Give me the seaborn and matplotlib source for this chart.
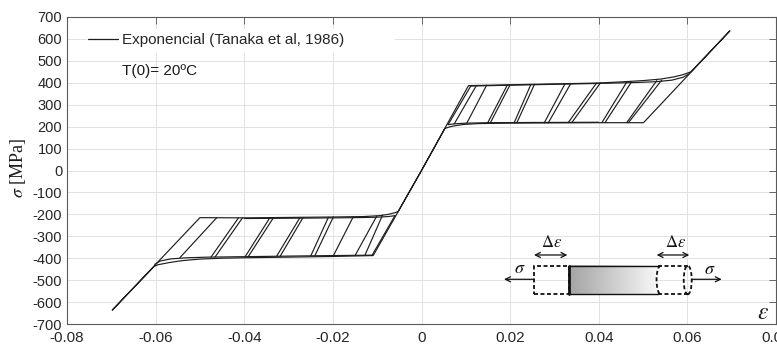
import numpy as np
import pandas as pd
import matplotlib
matplotlib.use("Agg")
import matplotlib.pyplot as plt
import seaborn as sns
from matplotlib.patches import Rectangle, Arc, Ellipse
from matplotlib.lines import Line2D

sns.set_theme(style="white")
plt.rcParams["font.family"] = ["Liberation Sans", "DejaVu Sans"]
plt.rcParams["mathtext.fontset"] = "stix"

# ---------------- data (strain [-], stress [MPa]) ----------------
# outer tension loop (through origin)
upper_x = [0.0, 0.0106, 0.020, 0.030, 0.040, 0.045, 0.050, 0.054, 0.057, 0.059, 0.0608,
           0.0696, 0.0501, 0.040, 0.030, 0.020, 0.013, 0.0095, 0.0075, 0.0062, 0.0053, 0.0]
upper_y = [0, 387, 391, 395, 399, 404, 410, 417, 427, 437, 450,
           637, 218, 218, 217, 216, 214, 210, 204, 198, 192, 0]
# outer compression loop
lower_x = [0.0, -0.0109, -0.020, -0.030, -0.040, -0.045, -0.050, -0.054, -0.057, -0.0595, -0.0603,
           -0.0698, -0.0500, -0.040, -0.030, -0.020, -0.013, -0.0095, -0.0075, -0.0063, -0.0053, 0.0]
lower_y = [0, -388, -392, -395, -398, -400, -404, -411, -420, -430, -437,
           -637, -215, -216, -214, -212, -210, -206, -200, -194, -188, 0]

# additional plateau branches of the partial cycles
upper_top2_x = [0.0110, 0.025, 0.040, 0.048, 0.053, 0.0565, 0.0590, 0.0603]
upper_top2_y = [385, 391, 397, 401, 405, 412, 425, 440]
upper_bot2_x = [0.040, 0.025, 0.015, 0.010, 0.0075, 0.0060]
upper_bot2_y = [220, 219, 218, 216, 213, 209]
upper_el2_x = [0.0060, 0.0112]
upper_el2_y = [209, 388]
lower_bot2_x = [-0.0111, -0.025, -0.040, -0.048, -0.053, -0.0565, -0.0590, -0.0602]
lower_bot2_y = [-386, -389, -393, -395, -398, -403, -413, -428]
lower_top2_x = [-0.040, -0.025, -0.015, -0.010, -0.0075, -0.0060]
lower_top2_y = [-219, -217, -215, -213, -210, -206]
lower_el2_x = [-0.0060, -0.0112]
lower_el2_y = [-206, -388]

# partial unloading / reloading branches (top point -> bottom point)
up_diag_top_x = [0.0124, 0.0147, 0.0194, 0.0200, 0.0247, 0.0255, 0.0324, 0.0337,
                 0.0395, 0.0404, 0.0463, 0.0474, 0.0531, 0.0542]
up_diag_top_y = [388, 389, 391, 391, 393, 393, 396, 397, 399, 400, 403, 404, 410, 412]
up_diag_bot_x = [0.0074, 0.0102, 0.0149, 0.0155, 0.0209, 0.0215, 0.0277, 0.0286,
                 0.0331, 0.0339, 0.0407, 0.0414, 0.0463, 0.0467]
up_diag_bot_y = [213, 215, 216, 216, 217, 217, 217, 217, 218, 218, 218, 218, 218, 218]

lo_diag_top_x = [-0.0462, -0.0413, -0.0404, -0.0342, -0.0334, -0.0274, -0.0267,
                 -0.0210, -0.0199, -0.0154, -0.0101, -0.0088]
lo_diag_top_y = [-215, -216, -216, -215, -215, -214, -214, -213, -212, -211, -208, -204]
lo_diag_bot_x = [-0.0545, -0.0475, -0.0466, -0.0398, -0.0391, -0.0327, -0.0319,
                 -0.0250, -0.0241, -0.0199, -0.0150, -0.0128]
lo_diag_bot_y = [-397, -395, -395, -393, -393, -391, -391, -390, -390, -389, -388, -388]

x_ticks = [-0.08, -0.06, -0.04, -0.02, 0.0, 0.02, 0.04, 0.06, 0.08]
x_tick_labels = ["-0.08", "-0.06", "-0.04", "-0.02", "0", "0.02", "0.04", "0.06", "0.08"]
y_ticks = list(range(-700, 701, 100))
y_tick_labels = [str(v) for v in y_ticks]
legend_label = "Exponencial (Tanaka et al, 1986)"
note_text = "T(0)= 20ºC"

# ---------------- long-form table ----------------
rows = []
seg = 0
def add(xs, ys):
    global seg
    for a, b in zip(xs, ys):
        rows.append((seg, a, b))
    seg += 1

add(upper_x, upper_y)
add(lower_x, lower_y)
add(upper_top2_x, upper_top2_y)
add(upper_bot2_x, upper_bot2_y)
add(upper_el2_x, upper_el2_y)
add(lower_bot2_x, lower_bot2_y)
add(lower_top2_x, lower_top2_y)
add(lower_el2_x, lower_el2_y)
for i in range(len(up_diag_top_x)):
    add([up_diag_top_x[i], up_diag_bot_x[i]], [up_diag_top_y[i], up_diag_bot_y[i]])
for i in range(len(lo_diag_top_x)):
    add([lo_diag_top_x[i], lo_diag_bot_x[i]], [lo_diag_top_y[i], lo_diag_bot_y[i]])
df = pd.DataFrame(rows, columns=["seg", "strain", "stress"])

LINE = "#1e1e1e"
fig = plt.figure(figsize=(7.77, 3.47), dpi=100)
ax = fig.add_axes([67 / 777, 23 / 347, 709 / 777, 307 / 347])
sns.lineplot(data=df, x="strain", y="stress", units="seg", estimator=None, sort=False,
             color=LINE, lw=0.85, ax=ax, legend=False)

ax.set_xlim(-0.08, 0.08)
ax.set_ylim(-700, 700)
ax.set_xticks(x_ticks)
ax.set_xticklabels(x_tick_labels)
ax.set_yticks(y_ticks)
ax.set_yticklabels(y_tick_labels)
ax.set_xlabel("")
ax.set_ylabel("")
ax.set_axisbelow(True)
ax.grid(True, color="#e2e2e2", lw=0.7)
for s in ax.spines.values():
    s.set_visible(True)
    s.set_color("#5a5a5a")
    s.set_linewidth(0.8)
ax.tick_params(direction="in", top=True, right=True, length=5, width=0.7,
               color="#666666", labelcolor="#262626")
ax.tick_params(axis="x", pad=5, labelsize=11)
ax.tick_params(axis="y", pad=3.5, labelsize=10.5)

# legend (white background, no frame)
ax.add_patch(Rectangle((0.0282, 0.8827), 0.4344, 0.0783, transform=ax.transAxes,
                       facecolor="white", edgecolor="none", zorder=1))
h = [Line2D([], [], color=LINE, lw=0.9)]
leg = ax.legend(h, [legend_label], loc="upper left", bbox_to_anchor=(0.0296, 0.9480),
                frameon=False, fontsize=11, borderaxespad=0, borderpad=0,
                handlelength=1.95, handletextpad=0.27)
ax.text(0.0776, 0.824, note_text, transform=ax.transAxes, fontsize=11, va="center",
        color="#1a1a1a")

# axis labels
fig.text(18 / 777, 1 - 168 / 347, r"$\sigma$ [MPa]", rotation=90, ha="center", va="center",
         fontsize=13, family="Liberation Serif", color="#1a1a1a")
ax.text(0.982, 0.036, r"$\varepsilon$", transform=ax.transAxes, fontsize=17,
        ha="center", va="center", color="#1a1a1a")

# ---------------- inset schematic ----------------
T = ax.transAxes
y0, y1 = 0.0967, 0.1899
ym = (y0 + y1) / 2
xl, xb, xr, xe = 0.6587, 0.7085, 0.834, 0.8811
K = "#111111"
dash = (0, (2.2, 1.4))
grad = np.linspace(0.64, 0.97, 256).reshape(1, -1)
ax.imshow(grad, extent=[xb, xr, y0, y1], transform=T, aspect="auto", cmap="gray",
          vmin=0, vmax=1, zorder=3)
ax.set_xlim(-0.08, 0.08)
ax.set_ylim(-700, 700)
ax.add_patch(Rectangle((xl, y0), xb - xl, y1 - y0, transform=T, fill=False,
                       edgecolor=K, lw=1.3, ls=dash, zorder=4))
ax.plot([xb, xr], [y1, y1], transform=T, color=K, lw=1.0, zorder=4)
ax.plot([xb, xr], [y0, y0], transform=T, color=K, lw=1.0, zorder=4)
ax.plot([xb, xb], [y0, y1], transform=T, color=K, lw=2.0, zorder=5)
ax.plot([xr, 0.8755], [y1, y1], transform=T, color=K, lw=1.3, ls=dash, zorder=4)
ax.plot([xr, 0.8755], [y0, y0], transform=T, color=K, lw=1.3, ls=dash, zorder=4)
ax.add_patch(Arc((0.8375, ym), 0.012, y1 - y0, theta1=90, theta2=270, transform=T,
                 edgecolor=K, lw=1.3, ls=dash, zorder=4))
ax.add_patch(Ellipse((0.8755, ym), 0.0113, y1 - y0, transform=T, fill=False,
                     edgecolor=K, lw=1.3, ls=dash, zorder=4))
ap = dict(color=K, lw=0.9, shrinkA=0, shrinkB=0, mutation_scale=9)
ax.annotate("", xy=(0.6164, 0.1456), xytext=(xl, 0.1456), xycoords=T,
            arrowprops=dict(arrowstyle="->", **ap))
ax.annotate("", xy=(0.9234, 0.1456), xytext=(xe, 0.1456), xycoords=T,
            arrowprops=dict(arrowstyle="->", **ap))
ax.annotate("", xy=(xl, 0.2248), xytext=(0.7057, 0.2248), xycoords=T,
            arrowprops=dict(arrowstyle="<->", **ap))
ax.annotate("", xy=(0.8317, 0.2248), xytext=(0.8777, 0.2248), xycoords=T,
            arrowprops=dict(arrowstyle="<->", **ap))
ax.text(0.6836, 0.268, r"$\Delta\varepsilon$", transform=T, fontsize=12, ha="center",
        va="center", color=K)
ax.text(0.8589, 0.268, r"$\Delta\varepsilon$", transform=T, fontsize=12, ha="center",
        va="center", color=K)
ax.text(0.639, 0.182, r"$\sigma$", transform=T, fontsize=13, ha="center", va="center", color=K)
ax.text(0.9069, 0.179, r"$\sigma$", transform=T, fontsize=13, ha="center", va="center", color=K)

fig.savefig("out.png", dpi=100)
